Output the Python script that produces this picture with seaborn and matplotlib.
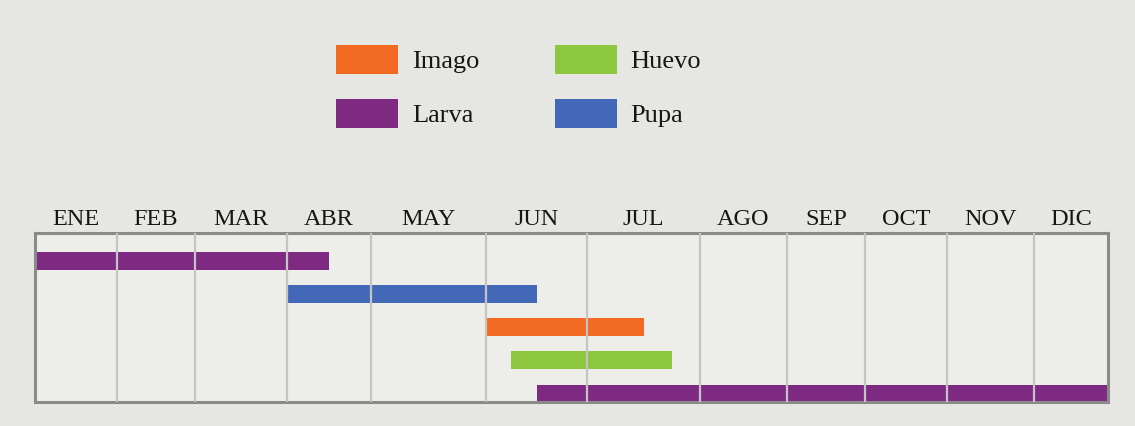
import numpy as np
import pandas as pd
import matplotlib.pyplot as plt
import seaborn as sns
from matplotlib.patches import Patch

# months and life stages (start / end measured in months from 1 January)
meses = ['ENE', 'FEB', 'MAR', 'ABR', 'MAY', 'JUN', 'JUL', 'AGO', 'SEP', 'OCT', 'NOV', 'DIC']
etapas = ['Larva', 'Pupa', 'Imago', 'Huevo', 'Larva']
inicio = [0.0, 3.0, 5.0, 5.25, 5.5]
fin = [3.5, 5.5, 6.5, 6.75, 12.0]

colores = {'Imago': '#f26a21', 'Larva': '#7e2a82', 'Huevo': '#8dc63f', 'Pupa': '#4468b8'}
orden_leyenda = ['Imago', 'Larva', 'Huevo', 'Pupa']

df = pd.DataFrame({'etapa': etapas, 'inicio': inicio, 'fin': fin})
df['fila'] = range(len(df))

# the month columns in the original are not all the same width
col_px = np.array([35, 117, 195, 287, 371, 486, 587, 700, 787, 865, 947, 1034, 1108], dtype=float)
mes_idx = np.arange(13, dtype=float)

sns.set_theme(style='white')
plt.rcParams['font.family'] = ['Liberation Serif', 'DejaVu Serif']

fig = plt.figure(figsize=(11.35, 4.26), dpi=100, facecolor='#e6e6e2')
ax = fig.add_axes([35 / 1135, 1 - 402 / 426, (1108 - 35) / 1135, (402 - 233) / 426])
ax.set_facecolor('#ededea')

ax.set_xscale('function', functions=(lambda m: np.interp(m, mes_idx, col_px),
                                     lambda p: np.interp(p, col_px, mes_idx)))

ax.barh(df['fila'], df['fin'] - df['inicio'], left=df['inicio'], height=0.52,
        color=[colores[e] for e in df['etapa']], edgecolor='none', linewidth=0, zorder=2)

for m in range(1, 12):
    ax.axvline(m, color='#c4c4c4', lw=1.6, zorder=3)

ax.set_xlim(0, 12)
ax.set_ylim(4.27, -0.85)
ax.set_yticks([])
ax.set_xticks(np.arange(12) + 0.5)
ax.set_xticklabels(meses)
ax.xaxis.tick_top()
ax.tick_params(axis='x', length=0, pad=2, labelsize=17.5, labelcolor='#161616')
for s in ax.spines.values():
    s.set_color('#8a8a8a')
    s.set_linewidth(2.2)

handles = [Patch(facecolor=colores[e], edgecolor='none', label=e) for e in orden_leyenda]
fig.legend(handles=handles, ncol=2, loc='upper left', frameon=False,
           bbox_to_anchor=(336 / 1135, 1 - 45 / 426), borderpad=0, borderaxespad=0,
           fontsize=19, handlelength=2.35, handleheight=1.31, handletextpad=0.53,
           columnspacing=2.85, labelspacing=0.95, labelcolor='#161616')

plt.savefig('out.png', dpi=100, facecolor=fig.get_facecolor())
